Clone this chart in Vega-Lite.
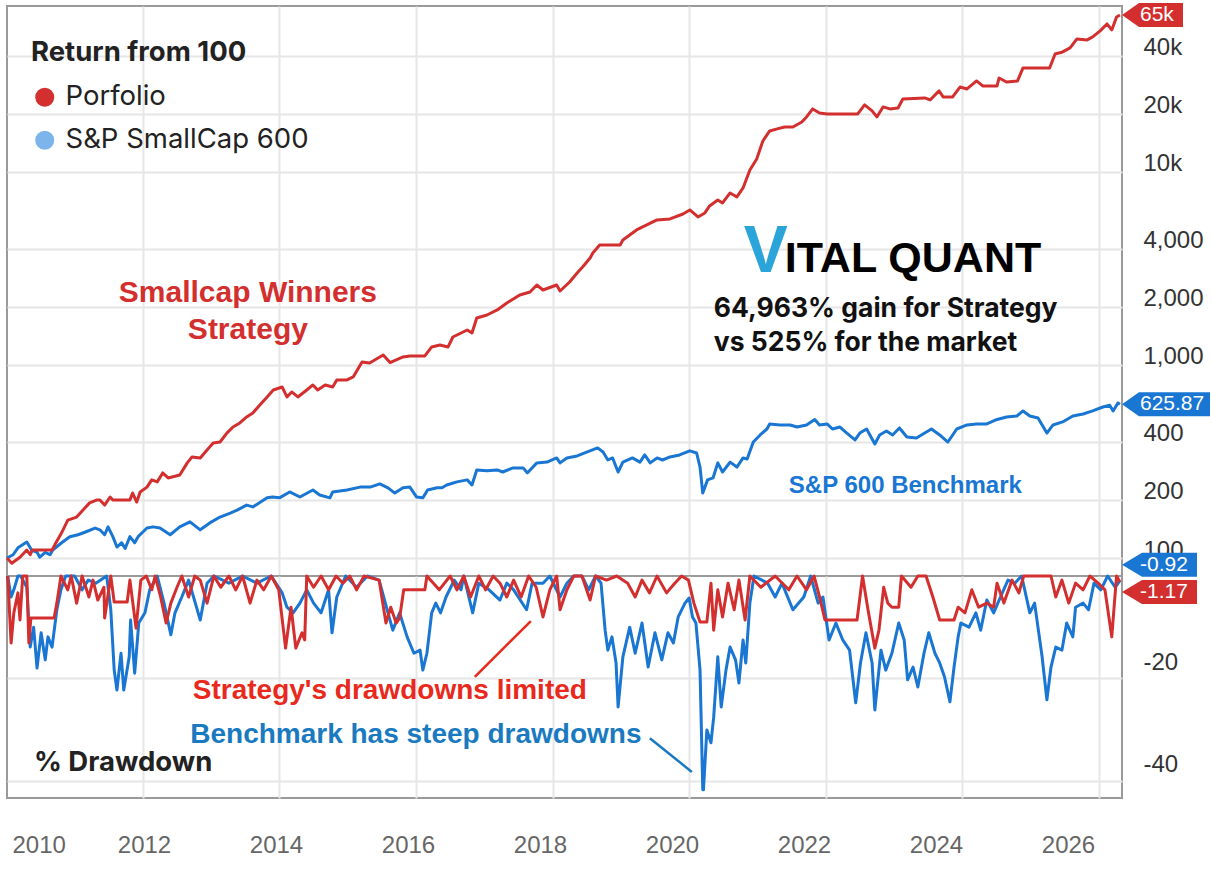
{
  "$schema": "https://vega.github.io/schema/vega-lite/v6.json",
  "background": "white",
  "autosize": {"type": "pad"},
  "padding": {"left": 4, "top": 1, "right": 0, "bottom": 0},
  "spacing": 0,
  "bounds": "flush",
  "config": {
    "font": "Liberation Sans",
    "view": {"stroke": "#9a9a9a", "strokeWidth": 2},
    "axis": {"gridColor": "#e6e6e6", "gridWidth": 2, "labelFont": "Liberation Sans"}
  },
  "datasets": {
    "series": [{"s": "Porfolio"}, {"s": "S&P SmallCap 600"}],
    "years": [{"t": 2010}, {"t": 2012}, {"t": 2014}, {"t": 2016}, {"t": 2018}, {"t": 2020}, {"t": 2022}, {"t": 2024}, {"t": 2026}],
    "port": [
      {"t":2010.01,"v":100},{"t":2010.08,"v":94},{"t":2010.2,"v":101},{"t":2010.3,"v":110},{"t":2010.35,"v":104},{"t":2010.38,"v":110},{"t":2010.67,"v":110},{"t":2010.71,"v":117},{"t":2010.81,"v":135},{"t":2010.9,"v":157},
      {"t":2011.03,"v":163},{"t":2011.12,"v":177},{"t":2011.22,"v":193},{"t":2011.33,"v":200},{"t":2011.37,"v":200},{"t":2011.44,"v":188},{"t":2011.52,"v":207},{"t":2011.56,"v":200},{"t":2011.81,"v":200},{"t":2011.85,"v":217},{"t":2011.91,"v":195},{"t":2011.96,"v":220},
      {"t":2012.06,"v":233},{"t":2012.13,"v":254},{"t":2012.21,"v":248},{"t":2012.29,"v":276},{"t":2012.37,"v":260},{"t":2012.54,"v":269},{"t":2012.65,"v":311},{"t":2012.72,"v":334},{"t":2012.84,"v":330},{"t":2012.94,"v":363},
      {"t":2013.03,"v":394},{"t":2013.13,"v":399},{"t":2013.23,"v":444},{"t":2013.32,"v":477},{"t":2013.42,"v":501},{"t":2013.52,"v":538},{"t":2013.61,"v":564},{"t":2013.71,"v":619},{"t":2013.82,"v":683},{"t":2013.91,"v":742},
      {"t":2014.04,"v":769},{"t":2014.11,"v":683},{"t":2014.18,"v":725},{"t":2014.27,"v":683},{"t":2014.4,"v":742},{"t":2014.49,"v":788},{"t":2014.56,"v":742},{"t":2014.67,"v":788},{"t":2014.78,"v":769},{"t":2014.84,"v":837},{"t":2014.99,"v":837},
      {"t":2015.08,"v":867},{"t":2015.21,"v":1036},{"t":2015.32,"v":1024},{"t":2015.52,"v":1127},{"t":2015.62,"v":1030},{"t":2015.81,"v":1101},{"t":2015.91,"v":1114},
      {"t":2016.13,"v":1114},{"t":2016.23,"v":1240},{"t":2016.35,"v":1270},{"t":2016.47,"v":1240},{"t":2016.54,"v":1396},{"t":2016.75,"v":1518},{"t":2016.82,"v":1465},{"t":2016.89,"v":1752},
      {"t":2017.04,"v":1816},{"t":2017.19,"v":1928},{"t":2017.33,"v":2096},{"t":2017.52,"v":2305},{"t":2017.67,"v":2389},{"t":2017.77,"v":2597},{"t":2017.86,"v":2447},
      {"t":2018.06,"v":2597},{"t":2018.11,"v":2417},{"t":2018.25,"v":2692},{"t":2018.36,"v":2998},{"t":2018.44,"v":3219},{"t":2018.55,"v":3585},{"t":2018.59,"v":3805},{"t":2018.69,"v":4186},{"t":2018.99,"v":4186},
      {"t":2019.03,"v":4444},{"t":2019.13,"v":4718},{"t":2019.23,"v":5007},{"t":2019.38,"v":5315},{"t":2019.53,"v":5641},{"t":2019.72,"v":5709},{"t":2019.91,"v":6058},
      {"t":2020.01,"v":6355},{"t":2020.13,"v":5845},{"t":2020.23,"v":6132},{"t":2020.3,"v":6665},{"t":2020.42,"v":7160},{"t":2020.49,"v":6908},{"t":2020.6,"v":7784},{"t":2020.7,"v":7421},{"t":2020.79,"v":8262},{"t":2020.89,"v":10240},{"t":2020.99,"v":11680},
      {"t":2021.08,"v":14470},{"t":2021.18,"v":16310},{"t":2021.29,"v":16710},{"t":2021.4,"v":17110},{"t":2021.52,"v":17110},{"t":2021.65,"v":18160},{"t":2021.72,"v":19280},{"t":2021.81,"v":21210},{"t":2021.91,"v":20220},
      {"t":2022.02,"v":19980},{"t":2022.47,"v":19980},{"t":2022.57,"v":22240},{"t":2022.68,"v":20710},{"t":2022.75,"v":19280},{"t":2022.84,"v":21720},{"t":2022.94,"v":21210},
      {"t":2023.06,"v":21460},{"t":2023.13,"v":23890},{"t":2023.45,"v":24180},{"t":2023.53,"v":23610},{"t":2023.66,"v":26290},{"t":2023.72,"v":24470},{"t":2023.86,"v":24470},{"t":2023.97,"v":27570},
      {"t":2024.07,"v":26920},{"t":2024.21,"v":29610},{"t":2024.3,"v":27900},{"t":2024.51,"v":27900},{"t":2024.54,"v":30690},{"t":2024.65,"v":29260},{"t":2024.81,"v":29610},{"t":2024.89,"v":34580},
      {"t":2025.28,"v":34580},{"t":2025.36,"v":40870},{"t":2025.47,"v":41860},{"t":2025.58,"v":43910},{"t":2025.68,"v":48890},{"t":2025.83,"v":48310},{"t":2025.91,"v":50060},
      {"t":2026.02,"v":53790},{"t":2026.12,"v":58460},{"t":2026.19,"v":54430},{"t":2026.26,"v":63550},{"t":2026.31,"v":65063}
    ],
    "bench": [
      {"t":2010.01,"v":100},{"t":2010.1,"v":104},{"t":2010.17,"v":113},{"t":2010.3,"v":121},{"t":2010.37,"v":110},{"t":2010.45,"v":107},{"t":2010.49,"v":101},{"t":2010.57,"v":107},{"t":2010.64,"v":104},{"t":2010.68,"v":110},{"t":2010.81,"v":120},{"t":2010.93,"v":129},
      {"t":2011.05,"v":132},{"t":2011.15,"v":136},{"t":2011.3,"v":143},{"t":2011.37,"v":140},{"t":2011.44,"v":132},{"t":2011.49,"v":145},{"t":2011.56,"v":129},{"t":2011.62,"v":114},{"t":2011.69,"v":120},{"t":2011.74,"v":112},{"t":2011.81,"v":129},{"t":2011.88,"v":120},{"t":2011.93,"v":129},
      {"t":2012.06,"v":143},{"t":2012.15,"v":145},{"t":2012.25,"v":143},{"t":2012.4,"v":132},{"t":2012.54,"v":145},{"t":2012.69,"v":154},{"t":2012.84,"v":140},{"t":2012.98,"v":152},
      {"t":2013.13,"v":163},{"t":2013.28,"v":171},{"t":2013.38,"v":177},{"t":2013.52,"v":188},{"t":2013.61,"v":184},{"t":2013.82,"v":205},{"t":2013.9,"v":207},
      {"t":2014.0,"v":205},{"t":2014.15,"v":220},{"t":2014.3,"v":207},{"t":2014.49,"v":225},{"t":2014.59,"v":212},{"t":2014.74,"v":205},{"t":2014.78,"v":220},{"t":2014.99,"v":225},
      {"t":2015.18,"v":233},{"t":2015.33,"v":233},{"t":2015.47,"v":242},{"t":2015.59,"v":231},{"t":2015.69,"v":217},{"t":2015.81,"v":231},{"t":2015.91,"v":233},
      {"t":2016.01,"v":207},{"t":2016.1,"v":205},{"t":2016.17,"v":225},{"t":2016.31,"v":231},{"t":2016.38,"v":231},{"t":2016.45,"v":239},{"t":2016.6,"v":248},{"t":2016.75,"v":254},{"t":2016.82,"v":239},{"t":2016.89,"v":286},
      {"t":2017.04,"v":283},{"t":2017.19,"v":286},{"t":2017.27,"v":279},{"t":2017.42,"v":293},{"t":2017.57,"v":293},{"t":2017.63,"v":276},{"t":2017.77,"v":311},{"t":2017.92,"v":314},
      {"t":2018.06,"v":330},{"t":2018.11,"v":311},{"t":2018.21,"v":330},{"t":2018.36,"v":338},{"t":2018.5,"v":354},{"t":2018.66,"v":372},{"t":2018.74,"v":354},{"t":2018.81,"v":322},{"t":2018.88,"v":330},{"t":2018.96,"v":279},
      {"t":2019.03,"v":314},{"t":2019.17,"v":330},{"t":2019.28,"v":314},{"t":2019.35,"v":342},{"t":2019.43,"v":311},{"t":2019.53,"v":330},{"t":2019.61,"v":322},{"t":2019.72,"v":334},{"t":2019.86,"v":342},
      {"t":2020.01,"v":359},{"t":2020.11,"v":350},{"t":2020.16,"v":296},{"t":2020.2,"v":217},{"t":2020.27,"v":254},{"t":2020.35,"v":260},{"t":2020.42,"v":311},{"t":2020.49,"v":279},{"t":2020.6,"v":314},{"t":2020.7,"v":296},{"t":2020.79,"v":330},{"t":2020.85,"v":326},{"t":2020.94,"v":399},
      {"t":2021.04,"v":434},{"t":2021.14,"v":466},{"t":2021.18,"v":495},{"t":2021.33,"v":489},{"t":2021.48,"v":489},{"t":2021.58,"v":477},{"t":2021.72,"v":489},{"t":2021.84,"v":522},{"t":2021.91,"v":489},
      {"t":2022.02,"v":495},{"t":2022.1,"v":466},{"t":2022.21,"v":477},{"t":2022.31,"v":444},{"t":2022.43,"v":409},{"t":2022.5,"v":444},{"t":2022.6,"v":466},{"t":2022.72,"v":390},{"t":2022.79,"v":434},{"t":2022.89,"v":455},{"t":2022.98,"v":434},
      {"t":2023.08,"v":472},{"t":2023.19,"v":424},{"t":2023.33,"v":419},{"t":2023.45,"v":444},{"t":2023.55,"v":466},{"t":2023.67,"v":434},{"t":2023.79,"v":399},{"t":2023.92,"v":466},
      {"t":2024.07,"v":489},{"t":2024.21,"v":495},{"t":2024.36,"v":495},{"t":2024.51,"v":522},{"t":2024.65,"v":538},{"t":2024.8,"v":544},{"t":2024.89,"v":578},{"t":2024.99,"v":544},
      {"t":2025.11,"v":531},{"t":2025.24,"v":444},{"t":2025.33,"v":489},{"t":2025.47,"v":507},{"t":2025.62,"v":544},{"t":2025.77,"v":557},{"t":2025.91,"v":578},
      {"t":2026.06,"v":606},{"t":2026.16,"v":619},{"t":2026.21,"v":578},{"t":2026.28,"v":636},{"t":2026.31,"v":625.87}
    ],
    "portDD": [
      {"t":2010.02,"v":0},{"t":2010.07,"v":-13.1},{"t":2010.11,"v":-7.2},{"t":2010.17,"v":-3.3},{"t":2010.2,"v":-8.6},{"t":2010.24,"v":0},{"t":2010.3,"v":0},{"t":2010.33,"v":-13.1},{"t":2010.36,"v":-8.2},{"t":2010.7,"v":-8.2},{"t":2010.74,"v":-5.3},{"t":2010.8,"v":0},{"t":2010.9,"v":-2.7},{"t":2010.95,"v":0},
      {"t":2011.03,"v":-5.3},{"t":2011.11,"v":0},{"t":2011.21,"v":-4.1},{"t":2011.27,"v":-0.8},{"t":2011.34,"v":-4.7},{"t":2011.43,"v":-2.2},{"t":2011.44,"v":-8.2},{"t":2011.53,"v":0},{"t":2011.58,"v":-5.1},{"t":2011.77,"v":-5.1},{"t":2011.81,"v":-0.8},{"t":2011.9,"v":-10.2},{"t":2011.97,"v":-0.8},
      {"t":2012.05,"v":0},{"t":2012.13,"v":-2.7},{"t":2012.18,"v":0},{"t":2012.26,"v":-4.1},{"t":2012.34,"v":-9.2},{"t":2012.41,"v":-5.3},{"t":2012.5,"v":-2.2},{"t":2012.57,"v":0},{"t":2012.67,"v":-4.1},{"t":2012.76,"v":0},{"t":2012.84,"v":-0.8},{"t":2012.94,"v":-5.3},
      {"t":2013.04,"v":0},{"t":2013.14,"v":-2.2},{"t":2013.26,"v":0},{"t":2013.36,"v":-2.7},{"t":2013.46,"v":0},{"t":2013.57,"v":-5.3},{"t":2013.67,"v":-0.8},{"t":2013.77,"v":-2.7},{"t":2013.88,"v":0},{"t":2013.99,"v":-2.7},
      {"t":2014.09,"v":-14.1},{"t":2014.17,"v":-6.1},{"t":2014.24,"v":-14.1},{"t":2014.33,"v":-11.1},{"t":2014.37,"v":-12.5},{"t":2014.4,"v":0},{"t":2014.5,"v":-2.2},{"t":2014.61,"v":0},{"t":2014.72,"v":-2.7},{"t":2014.83,"v":0},{"t":2014.93,"v":-1.4},
      {"t":2015.03,"v":0},{"t":2015.13,"v":-2.7},{"t":2015.24,"v":0},{"t":2015.46,"v":-0.8},{"t":2015.56,"v":-9.2},{"t":2015.63,"v":-6.1},{"t":2015.71,"v":-9.2},{"t":2015.76,"v":-8.2},{"t":2015.82,"v":-2.7},{"t":2015.93,"v":-2.7},
      {"t":2016.13,"v":-2.7},{"t":2016.16,"v":0},{"t":2016.34,"v":-2.7},{"t":2016.5,"v":0},{"t":2016.6,"v":-2.7},{"t":2016.7,"v":0},{"t":2016.8,"v":-4.1},{"t":2016.92,"v":0},
      {"t":2017.02,"v":-2.7},{"t":2017.13,"v":0},{"t":2017.23,"v":-1.4},{"t":2017.33,"v":-4.1},{"t":2017.43,"v":-0.8},{"t":2017.54,"v":-4.1},{"t":2017.65,"v":0},{"t":2017.76,"v":-2.2},{"t":2017.86,"v":-8},{"t":2017.96,"v":-2.7},
      {"t":2018.06,"v":0},{"t":2018.11,"v":-6.6},{"t":2018.21,"v":-2.7},{"t":2018.31,"v":0},{"t":2018.43,"v":0},{"t":2018.55,"v":-4.7},{"t":2018.63,"v":0},{"t":2018.79,"v":-0.8},{"t":2018.94,"v":0},
      {"t":2019.1,"v":-1.4},{"t":2019.21,"v":-4.1},{"t":2019.31,"v":-0.8},{"t":2019.42,"v":-3.3},{"t":2019.53,"v":0},{"t":2019.67,"v":-3.3},{"t":2019.79,"v":-1.4},{"t":2019.89,"v":0},{"t":2019.99,"v":-0.8},
      {"t":2020.07,"v":-5.3},{"t":2020.16,"v":-9},{"t":2020.26,"v":-9},{"t":2020.32,"v":-1.4},{"t":2020.36,"v":-10.6},{"t":2020.42,"v":-2.7},{"t":2020.49,"v":-8},{"t":2020.57,"v":-1.4},{"t":2020.66,"v":-6.6},{"t":2020.73,"v":-0.8},{"t":2020.82,"v":-8.6},{"t":2020.89,"v":0},
      {"t":2021.05,"v":-2.2},{"t":2021.26,"v":0},{"t":2021.46,"v":-2.7},{"t":2021.58,"v":0},{"t":2021.72,"v":-2.7},{"t":2021.83,"v":0},{"t":2021.91,"v":-4.1},{"t":2021.99,"v":-8.6},
      {"t":2022.46,"v":-8.6},{"t":2022.54,"v":0},{"t":2022.62,"v":-6.6},{"t":2022.72,"v":-14.1},{"t":2022.78,"v":-10.6},{"t":2022.85,"v":-2.2},{"t":2022.91,"v":-5.3},{"t":2022.97,"v":-6.1},
      {"t":2023.07,"v":-6.1},{"t":2023.11,"v":0},{"t":2023.25,"v":-2.2},{"t":2023.35,"v":0},{"t":2023.47,"v":0},{"t":2023.57,"v":-4.1},{"t":2023.67,"v":-8.6},{"t":2023.88,"v":-8.6},{"t":2023.94,"v":-6.1},
      {"t":2024.04,"v":-7.2},{"t":2024.14,"v":-2.7},{"t":2024.24,"v":-6.1},{"t":2024.36,"v":-5.3},{"t":2024.46,"v":-6.1},{"t":2024.51,"v":-1.4},{"t":2024.61,"v":-5.3},{"t":2024.73,"v":-0.8},{"t":2024.83,"v":-3.3},{"t":2024.9,"v":0},
      {"t":2025.3,"v":0},{"t":2025.37,"v":-4.1},{"t":2025.46,"v":-0.8},{"t":2025.56,"v":-5.3},{"t":2025.66,"v":-1.4},{"t":2025.77,"v":-2.7},{"t":2025.87,"v":0},{"t":2025.99,"v":-1.4},
      {"t":2026.09,"v":-2.7},{"t":2026.19,"v":-11.9},{"t":2026.26,"v":0},{"t":2026.31,"v":-1.17}
    ],
    "benchDD": [
      {"t":2010.02,"v":0},{"t":2010.07,"v":-4.1},{"t":2010.11,"v":-2.7},{"t":2010.17,"v":0},{"t":2010.21,"v":0},{"t":2010.3,"v":-2.2},{"t":2010.35,"v":-13.9},{"t":2010.4,"v":-10},{"t":2010.45,"v":-18},{"t":2010.51,"v":-11.1},{"t":2010.57,"v":-16.4},{"t":2010.61,"v":-11.9},{"t":2010.67,"v":-13.9},{"t":2010.74,"v":-6.6},{"t":2010.8,"v":-2.7},{"t":2010.87,"v":0},
      {"t":2011.0,"v":0},{"t":2011.11,"v":-2.7},{"t":2011.2,"v":-0.8},{"t":2011.31,"v":-1.4},{"t":2011.47,"v":0},{"t":2011.53,"v":-6.6},{"t":2011.58,"v":-18.4},{"t":2011.62,"v":-22.3},{"t":2011.68,"v":-15.1},{"t":2011.72,"v":-22.3},{"t":2011.8,"v":-15.8},{"t":2011.82,"v":-8.6},{"t":2011.88,"v":-19},{"t":2011.94,"v":-9.2},
      {"t":2012.03,"v":-7.2},{"t":2012.1,"v":-2.7},{"t":2012.21,"v":0},{"t":2012.31,"v":-5.3},{"t":2012.41,"v":-11.5},{"t":2012.47,"v":-7.2},{"t":2012.57,"v":-4.1},{"t":2012.67,"v":-0.8},{"t":2012.84,"v":-8.6},{"t":2012.94,"v":-1.4},
      {"t":2013.04,"v":0},{"t":2013.26,"v":-1.4},{"t":2013.46,"v":0},{"t":2013.67,"v":-1.4},{"t":2013.88,"v":0},
      {"t":2014.04,"v":-3.3},{"t":2014.11,"v":-6.1},{"t":2014.2,"v":-7.2},{"t":2014.3,"v":-5.3},{"t":2014.4,"v":-2.7},{"t":2014.5,"v":-5.3},{"t":2014.61,"v":-7.2},{"t":2014.72,"v":-2.7},{"t":2014.77,"v":-11.1},{"t":2014.84,"v":-4.1},{"t":2014.97,"v":0},
      {"t":2015.13,"v":-2.2},{"t":2015.29,"v":0},{"t":2015.46,"v":-0.8},{"t":2015.59,"v":-7.2},{"t":2015.66,"v":-10.6},{"t":2015.76,"v":-7.2},{"t":2015.87,"v":-11.9},{"t":2015.97,"v":-15.1},
      {"t":2016.06,"v":-14.5},{"t":2016.1,"v":-18.4},{"t":2016.16,"v":-15.1},{"t":2016.23,"v":-7.2},{"t":2016.29,"v":-5.3},{"t":2016.36,"v":-7.2},{"t":2016.44,"v":-4.1},{"t":2016.56,"v":-0.8},{"t":2016.66,"v":-2.7},{"t":2016.7,"v":0},{"t":2016.83,"v":-7.2},{"t":2016.92,"v":-1.4},
      {"t":2017.07,"v":-2.7},{"t":2017.23,"v":-4.7},{"t":2017.33,"v":-1.4},{"t":2017.43,"v":-2.7},{"t":2017.62,"v":-6.6},{"t":2017.7,"v":-1.4},{"t":2017.86,"v":-1.4},{"t":2017.96,"v":0},
      {"t":2018.11,"v":-4.1},{"t":2018.21,"v":-1.4},{"t":2018.31,"v":0},{"t":2018.43,"v":0},{"t":2018.53,"v":-2.7},{"t":2018.63,"v":0},{"t":2018.71,"v":-1.4},{"t":2018.77,"v":-10.6},{"t":2018.81,"v":-14.5},{"t":2018.87,"v":-11.9},{"t":2018.93,"v":-17},{"t":2018.96,"v":-25.6},
      {"t":2019.03,"v":-15.8},{"t":2019.13,"v":-10},{"t":2019.21,"v":-15.1},{"t":2019.31,"v":-9.2},{"t":2019.4,"v":-17.8},{"t":2019.5,"v":-11.1},{"t":2019.6,"v":-16.4},{"t":2019.69,"v":-11.1},{"t":2019.77,"v":-13.1},{"t":2019.84,"v":-8},{"t":2019.94,"v":-5.3},
      {"t":2020.0,"v":-4.3},{"t":2020.05,"v":-8},{"t":2020.1,"v":-9.2},{"t":2020.16,"v":-18.4},{"t":2020.2,"v":-41.8},{"t":2020.21,"v":-41.8},{"t":2020.26,"v":-30.1},{"t":2020.32,"v":-32.6},{"t":2020.36,"v":-27.6},{"t":2020.42,"v":-15.8},{"t":2020.47,"v":-25.6},{"t":2020.54,"v":-18.4},{"t":2020.6,"v":-13.9},{"t":2020.68,"v":-16.4},{"t":2020.73,"v":-20.9},{"t":2020.79,"v":-12.5},{"t":2020.83,"v":-17},{"t":2020.89,"v":-5.3},{"t":2020.95,"v":0},
      {"t":2021.15,"v":-1.4},{"t":2021.26,"v":-4.1},{"t":2021.36,"v":-1.4},{"t":2021.52,"v":-6.6},{"t":2021.68,"v":-4.1},{"t":2021.78,"v":0},{"t":2021.89,"v":-5.3},{"t":2021.96,"v":-4.1},
      {"t":2022.05,"v":-12.5},{"t":2022.15,"v":-9.2},{"t":2022.25,"v":-12.5},{"t":2022.35,"v":-14.5},{"t":2022.44,"v":-24.8},{"t":2022.51,"v":-17},{"t":2022.59,"v":-11.1},{"t":2022.68,"v":-17},{"t":2022.72,"v":-26.2},{"t":2022.81,"v":-14.5},{"t":2022.88,"v":-18.4},{"t":2022.97,"v":-15.1},
      {"t":2023.07,"v":-9.2},{"t":2023.15,"v":-12.5},{"t":2023.2,"v":-20.3},{"t":2023.28,"v":-17.8},{"t":2023.35,"v":-21.7},{"t":2023.44,"v":-15.1},{"t":2023.51,"v":-11.1},{"t":2023.6,"v":-15.1},{"t":2023.67,"v":-17},{"t":2023.74,"v":-19.7},{"t":2023.82,"v":-24.6},{"t":2023.88,"v":-17.8},{"t":2023.94,"v":-11.9},{"t":2023.98,"v":-9.2},
      {"t":2024.1,"v":-10},{"t":2024.2,"v":-7.2},{"t":2024.27,"v":-10.6},{"t":2024.36,"v":-4.7},{"t":2024.46,"v":-7.2},{"t":2024.56,"v":-4.1},{"t":2024.67,"v":-0.8},{"t":2024.77,"v":-1.4},{"t":2024.87,"v":0},{"t":2024.99,"v":-7.2},
      {"t":2025.06,"v":-5.3},{"t":2025.17,"v":-15.8},{"t":2025.24,"v":-24.2},{"t":2025.3,"v":-17.8},{"t":2025.37,"v":-13.9},{"t":2025.46,"v":-14.5},{"t":2025.53,"v":-9.2},{"t":2025.62,"v":-11.9},{"t":2025.66,"v":-6.1},{"t":2025.77,"v":-5.3},{"t":2025.85,"v":-6.6},{"t":2025.93,"v":-1.4},
      {"t":2026.03,"v":-2.7},{"t":2026.13,"v":0},{"t":2026.24,"v":-2.2},{"t":2026.31,"v":-0.92}
    ]
  },
  "resolve": {"scale": {"x": "independent", "y": "independent"}},
  "vconcat": [
    {
      "width": 1115,
      "height": 570,
      "encoding": {
        "x": {"field": "t", "type": "quantitative",
          "scale": {"domain": [2010.01, 2026.34], "nice": false, "zero": false},
          "axis": {"values": [2012, 2014, 2016, 2018, 2020, 2022, 2024, 2026], "grid": true, "labels": false, "ticks": false, "domain": false, "title": null}},
        "y": {"field": "v", "type": "quantitative",
          "scale": {"type": "log", "domain": [80.7, 72400], "nice": false},
          "axis": {"orient": "right", "values": [100, 200, 400, 1000, 2000, 4000, 10000, 20000, 40000],
            "labelExpr": "datum.value >= 10000 ? (datum.value / 1000) + 'k' : format(datum.value, ',')",
            "title": null, "ticks": false, "domain": false, "grid": true,
            "labelPadding": 21, "labelFontSize": 24, "labelColor": "#333", "labelBaseline": "alphabetic", "labelOffset": -1, "labelOverlap": false, "labelBound": false}}
      },
      "layer": [
        {
          "data": {"name": "series"},
          "transform": [{"filter": "false"}],
          "mark": {"type": "point", "filled": true},
          "encoding": {
            "color": {"field": "s", "type": "nominal",
              "scale": {"domain": ["Porfolio", "S&P SmallCap 600"], "range": ["#d32f2f", "#7cb5ec"]},
              "legend": {"title": "Return from 100", "orient": "none", "legendX": 24, "legendY": 33, "padding": 0,
                "titleFont": "Inter", "titleFontSize": 27.5, "titleFontWeight": "bold", "titleColor": "#222", "titlePadding": 17, "titleLimit": 500,
                "labelFont": "Inter", "labelFontSize": 27.5, "labelColor": "#222", "labelOffset": 7, "labelLimit": 500,
                "symbolType": "circle", "symbolSize": 361, "symbolOpacity": 1, "symbolStrokeWidth": 0, "rowPadding": 14}}
          }
        },
        {"data": {"name": "bench"}, "mark": {"type": "line", "color": "#1976d2", "strokeWidth": 3, "strokeJoin": "round"}},
        {"data": {"name": "port"}, "mark": {"type": "line", "color": "#d32f2f", "strokeWidth": 3, "strokeJoin": "round"}},
        {
          "data": {"values": [{"t": 2013.538, "v": 2361, "label": "Smallcap Winners"}, {"t": 2013.538, "v": 1518, "label": "Strategy"}]},
          "mark": {"type": "text", "align": "center", "baseline": "middle", "font": "Liberation Sans", "fontWeight": "bold", "fontSize": 30, "color": "#d32f2f"},
          "encoding": {"text": {"field": "label"}}
        },
        {
          "data": {"values": [{"t": 2020.362, "v": 1951, "label": "64,963% gain for Strategy"}, {"t": 2020.362, "v": 1300, "label": "vs 525% for the market"}]},
          "mark": {"type": "text", "align": "left", "baseline": "middle", "font": "Inter", "fontWeight": "bold", "fontSize": 26.5, "color": "#111"},
          "encoding": {"text": {"field": "label"}}
        },
        {
          "data": {"values": [{"t": 2021.124, "v": 3033, "label": "V"}]},
          "mark": {"type": "text", "align": "center", "baseline": "alphabetic", "font": "Liberation Sans", "fontWeight": "bold", "fontSize": 66, "color": "#2ba4d9"},
          "encoding": {"text": {"field": "label"}}
        },
        {
          "data": {"values": [{"t": 2021.402, "v": 3033, "label": "ITAL QUANT"}]},
          "mark": {"type": "text", "align": "left", "baseline": "alphabetic", "font": "Liberation Sans", "fontWeight": "bold", "fontSize": 43, "color": "#000"},
          "encoding": {"text": {"field": "label"}}
        },
        {
          "data": {"values": [{"t": 2021.461, "v": 236, "label": "S&P 600 Benchmark"}]},
          "mark": {"type": "text", "align": "left", "baseline": "middle", "font": "Liberation Sans", "fontWeight": "bold", "fontSize": 24, "color": "#1976d2"},
          "encoding": {"text": {"field": "label"}}
        },
        {
          "data": {"values": [{"t": 2026.34, "v": 65063, "label": "65k"}]},
          "mark": {"type": "point", "shape": "M0,0L17,-12L61,-12L61,12L17,12Z", "size": 4, "filled": true, "opacity": 1, "color": "#d32f2f", "strokeWidth": 0}
        },
        {
          "data": {"values": [{"t": 2026.34, "v": 65063, "label": "65k"}]},
          "mark": {"type": "text", "align": "left", "baseline": "middle", "dx": 18, "fontSize": 21, "color": "white"},
          "encoding": {"text": {"field": "label"}}
        },
        {
          "data": {"values": [{"t": 2026.34, "v": 625.87, "label": "625.87"}]},
          "mark": {"type": "point", "shape": "M0,0L17,-12L88,-12L88,12L17,12Z", "size": 4, "filled": true, "opacity": 1, "color": "#1976d2", "strokeWidth": 0}
        },
        {
          "data": {"values": [{"t": 2026.34, "v": 625.87, "label": "625.87"}]},
          "mark": {"type": "text", "align": "left", "baseline": "middle", "dx": 18, "fontSize": 21, "color": "white"},
          "encoding": {"text": {"field": "label"}}
        }
      ]
    },
    {
      "width": 1115,
      "height": 222,
      "encoding": {
        "x": {"field": "t", "type": "quantitative",
          "scale": {"domain": [2010.01, 2026.34], "nice": false, "zero": false},
          "axis": {"values": [2012, 2014, 2016, 2018, 2020, 2022, 2024, 2026], "grid": true, "labels": false, "ticks": false, "domain": false, "title": null}},
        "y": {"field": "v", "type": "quantitative",
          "scale": {"domain": [-43.4, 0], "nice": false, "zero": false},
          "axis": {"orient": "right", "values": [-20, -40], "labelExpr": "'' + datum.value",
            "title": null, "ticks": false, "domain": false, "grid": true,
            "labelPadding": 21, "labelFontSize": 24, "labelColor": "#333", "labelBaseline": "alphabetic", "labelOffset": -9, "labelOverlap": false, "labelBound": false}}
      },
      "layer": [
        {"data": {"name": "benchDD"}, "mark": {"type": "line", "color": "#1976d2", "strokeWidth": 3, "strokeJoin": "round"}},
        {"data": {"name": "portDD"}, "mark": {"type": "line", "color": "#d32f2f", "strokeWidth": 3, "strokeJoin": "round"}},
        {
          "data": {"values": [{"t": 2016.862, "v": -19.7, "t2": 2017.682, "v2": -8.8}]},
          "mark": {"type": "rule", "color": "#e8291c", "strokeWidth": 2.5},
          "encoding": {"x2": {"field": "t2"}, "y2": {"field": "v2"}}
        },
        {
          "data": {"values": [{"t": 2019.425, "v": -31.7, "t2": 2020.04, "v2": -38.3}]},
          "mark": {"type": "rule", "color": "#1a7abf", "strokeWidth": 2.5},
          "encoding": {"x2": {"field": "t2"}, "y2": {"field": "v2"}}
        },
        {
          "data": {"values": [{"t": 2015.617, "v": -22.5, "label": "Strategy's drawdowns limited"}]},
          "mark": {"type": "text", "align": "center", "baseline": "middle", "font": "Liberation Sans", "fontWeight": "bold", "fontSize": 28, "color": "#e8291c"},
          "encoding": {"text": {"field": "label"}}
        },
        {
          "data": {"values": [{"t": 2015.998, "v": -31.1, "label": "Benchmark has steep drawdowns"}]},
          "mark": {"type": "text", "align": "center", "baseline": "middle", "font": "Liberation Sans", "fontWeight": "bold", "fontSize": 28, "color": "#1a7abf"},
          "encoding": {"text": {"field": "label"}}
        },
        {
          "data": {"values": [{"t": 2010.404, "v": -36.5, "label": "% Drawdown"}]},
          "mark": {"type": "text", "align": "left", "baseline": "middle", "font": "Inter", "fontWeight": "bold", "fontSize": 27.5, "color": "#222"},
          "encoding": {"text": {"field": "label"}}
        },
        {
          "data": {"values": [{"t": 2026.34, "v": -0.92, "label": "-0.92"}]},
          "mark": {"type": "point", "shape": "M0,0L20,-12L75,-12L75,12L20,12Z", "size": 4, "filled": true, "opacity": 1, "color": "#1976d2", "strokeWidth": 0, "yOffset": -16}
        },
        {
          "data": {"values": [{"t": 2026.34, "v": -0.92, "label": "-0.92"}]},
          "mark": {"type": "text", "align": "left", "baseline": "middle", "dx": 18, "dy": -16, "fontSize": 21, "color": "white"},
          "encoding": {"text": {"field": "label"}}
        },
        {
          "data": {"values": [{"t": 2026.34, "v": -1.17, "label": "-1.17"}]},
          "mark": {"type": "point", "shape": "M0,0L20,-12L75,-12L75,12L20,12Z", "size": 4, "filled": true, "opacity": 1, "color": "#d32f2f", "strokeWidth": 0, "yOffset": 10}
        },
        {
          "data": {"values": [{"t": 2026.34, "v": -1.17, "label": "-1.17"}]},
          "mark": {"type": "text", "align": "left", "baseline": "middle", "dx": 18, "dy": 10, "fontSize": 21, "color": "white"},
          "encoding": {"text": {"field": "label"}}
        }
      ]
    },
    {
      "width": 1115,
      "height": 1,
      "view": {"stroke": null},
      "data": {"name": "years"},
      "mark": {"type": "point", "opacity": 0},
      "encoding": {
        "x": {"field": "t", "type": "quantitative",
          "scale": {"domain": [2009.924, 2026.818], "nice": false, "zero": false},
          "axis": {"orient": "bottom", "values": [2010, 2012, 2014, 2016, 2018, 2020, 2022, 2024, 2026], "format": "d",
            "grid": false, "ticks": false, "domain": false, "title": null,
            "labelFont": "Liberation Sans", "labelFontSize": 24, "labelColor": "#666",
            "labelPadding": 34, "labelFlush": 10, "labelOverlap": false}}
      }
    }
  ]
}
